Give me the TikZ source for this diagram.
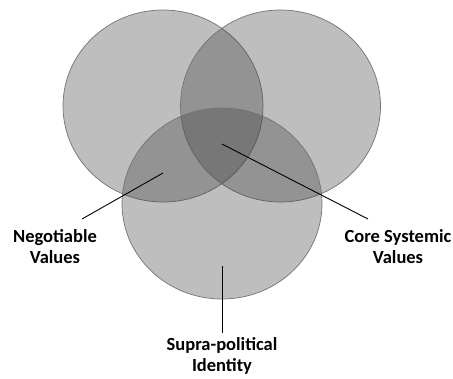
\documentclass[tikz,border=0pt]{standalone}
\usepackage{fontspec}
\setmainfont{Carlito}
\usetikzlibrary{shapes.geometric}
\tikzset{
	venn/.style={draw=black!55, line width=0.7pt, fill=black!75, fill opacity=0.34, ellipse, minimum width=200pt, minimum height=192pt, inner sep=0pt},
	lbl/.style={font=\fontsize{18.5}{21.5}\selectfont\bfseries, align=center, inner sep=0pt, anchor=north},
	pointer/.style={line width=0.9pt, black}
}
\begin{document}
\begin{tikzpicture}[x=1pt,y=-1pt]
	\useasboundingbox (0,0) rectangle (453,378);
	%Cerchi
	\node [venn] (left) at (163,106) {};
	\node [venn] (right) at (280.5,106) {};
	\node [venn, minimum height=191pt] (bottom) at (222,203.5) {};
	%Etichette
	\node [lbl] (neg) at (55,229) {Negotiable\\Values};
	\node [lbl] (core) at (398,229) {Core Systemic\\Values};
	\node [lbl] (supra) at (222,337) {Supra-political\\Identity};
	%Punti
	\coordinate (pneg) at (163,173);
	\coordinate (pcore) at (222,144);
	\coordinate (psupra) at (222,266);
	\coordinate (eneg) at (82,219);
	\coordinate (ecore) at (368,219);
	\coordinate (esupra) at (222,333);
	%Collegamenti
	\draw [pointer] (pneg) -- (eneg);
	\draw [pointer] (pcore) -- (ecore);
	\draw [pointer] (psupra) -- (esupra);
\end{tikzpicture}
\end{document}
